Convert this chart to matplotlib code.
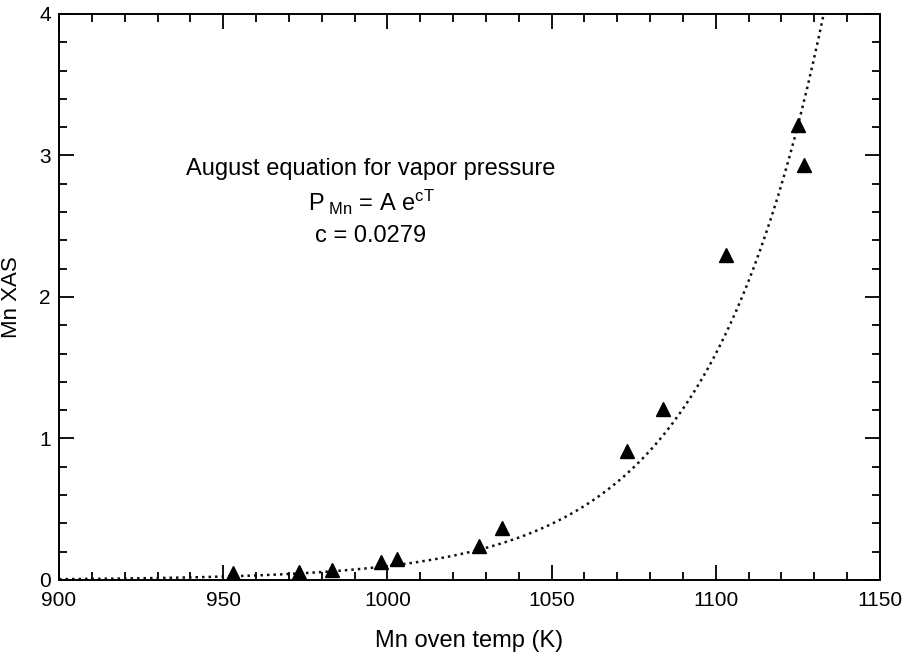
import numpy as np
import matplotlib
matplotlib.use("Agg")
import matplotlib.pyplot as plt
from matplotlib.ticker import MultipleLocator

plt.rcParams['font.family'] = ['Liberation Sans', 'DejaVu Sans']
plt.rcParams['mathtext.fontset'] = 'custom'
plt.rcParams['mathtext.rm'] = 'Liberation Sans'
plt.rcParams['mathtext.it'] = 'Liberation Sans'

# oven temperature (K) and Mn XAS signal
temp = [953, 973, 983, 998, 1003, 1028, 1035, 1073, 1084, 1103, 1125, 1127]
xas = [0.05, 0.06, 0.074, 0.13, 0.148, 0.24, 0.37, 0.91, 1.21, 2.30, 3.215, 2.93]

# August fit  P = A exp(cT)
c_fit = 0.0279
A_fit = 7.5e-14

fig = plt.figure(figsize=(9.04, 6.63), dpi=100)
ax = fig.add_axes([0.0653, 0.1252, 0.908, 0.8537])

T = np.linspace(900, 1140, 400)
ax.plot(T, A_fit * np.exp(c_fit * T), color='#111111', lw=1.8,
        linestyle=(0, (1, 1.6)))
ax.plot(temp, xas, linestyle='none', marker='^', markersize=10,
        color='black')

ax.set_xlim(900, 1150)
ax.set_ylim(0, 4)
ax.xaxis.set_major_locator(MultipleLocator(50))
ax.xaxis.set_minor_locator(MultipleLocator(10))
ax.yaxis.set_major_locator(MultipleLocator(1))
ax.yaxis.set_minor_locator(MultipleLocator(0.2))
ax.tick_params(which='both', direction='in', top=True, right=True,
               width=1.3, labelsize=15)
ax.tick_params(axis='x', which='major', length=10.5, pad=8)
ax.tick_params(axis='y', which='major', length=10.5, pad=6)
ax.tick_params(which='minor', length=5.8)
for s in ax.spines.values():
    s.set_linewidth(1.4)

ax.set_xlabel('Mn oven temp (K)', fontsize=17, labelpad=14)
ax.set_ylabel('Mn XAS', fontsize=16, labelpad=12)

ax.text(995, 2.905, 'August equation for vapor pressure', fontsize=17,
        ha='center', va='center')
ax.text(995, 2.67, r'P$_{\ \mathrm{Mn}}$ = A e$^{\mathrm{cT}}$', fontsize=17,
        ha='center', va='center')
ax.text(995, 2.43, 'c = 0.0279', fontsize=17, ha='center', va='center')

fig.savefig('out.png', dpi=100)
